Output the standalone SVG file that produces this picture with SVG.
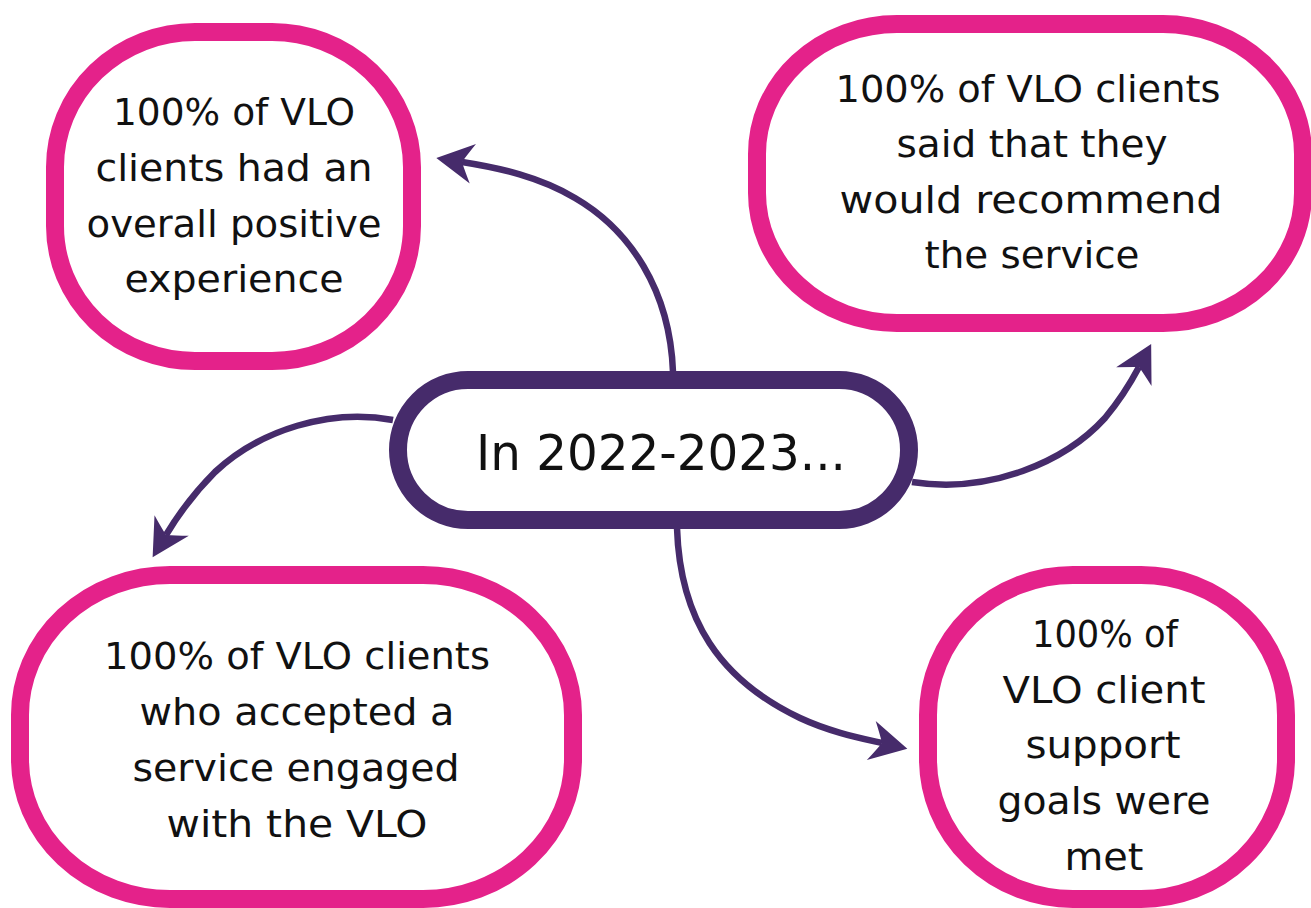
<svg xmlns="http://www.w3.org/2000/svg" width="1311" height="908" viewBox="0 0 1311 908">
<defs>
<style>
.box{fill:#fff;stroke:#E4228A;stroke-width:18}
.hub{fill:#fff;stroke:#462B6B;stroke-width:18}
.lbl{font-family:"DejaVu Sans","Liberation Sans",sans-serif;font-size:38px;fill:#111;text-anchor:middle}
.hubt{font-family:"DejaVu Sans","Liberation Sans",sans-serif;font-size:49px;fill:#111;text-anchor:middle}
.conn{fill:none;stroke:#462B6B;stroke-width:6.5}
</style>
<marker id="arr" markerUnits="userSpaceOnUse" viewBox="-40 -22 44 44" refX="-26" refY="0" markerWidth="44" markerHeight="44" orient="auto">
<path d="M0,0 L-37,-20 Q-30,-8 -26,0 Q-30,8 -37,20 Z" fill="#462B6B"/>
</marker>
</defs>
<rect width="1311" height="908" fill="#fff"/>
<g id="connectors">
<path class="conn" marker-end="url(#arr)" d="M673,372 C670,290 630,230 575,198 C540,177 500,168 462,162"/>
<path class="conn" marker-end="url(#arr)" d="M912,482 C990,494 1065,462 1105,418 C1120,400 1130,384 1139,367"/>
<path class="conn" marker-end="url(#arr)" d="M393,420 C330,408 260,430 215,472 C195,492 178,515 166,535"/>
<path class="conn" marker-end="url(#arr)" d="M677,528 C680,620 720,680 800,718 C830,732 860,738 882,743"/>
</g>
<g id="node-top-left">
<rect class="box" x="55" y="32" width="357" height="329" rx="140" ry="135"/>
<text class="lbl" x="234" y="125" textLength="242" lengthAdjust="spacingAndGlyphs">100% of VLO</text>
<text class="lbl" x="234" y="181" textLength="277" lengthAdjust="spacingAndGlyphs">clients had an</text>
<text class="lbl" x="234" y="237" textLength="295" lengthAdjust="spacingAndGlyphs">overall positive</text>
<text class="lbl" x="234" y="292" textLength="219" lengthAdjust="spacingAndGlyphs">experience</text>
</g>
<g id="node-top-right">
<rect class="box" x="757" y="24" width="546" height="299" rx="140" ry="130"/>
<text class="lbl" x="1028" y="102" textLength="385" lengthAdjust="spacingAndGlyphs">100% of VLO clients</text>
<text class="lbl" x="1032" y="157" textLength="271" lengthAdjust="spacingAndGlyphs">said that they</text>
<text class="lbl" x="1031" y="213" textLength="383" lengthAdjust="spacingAndGlyphs">would recommend</text>
<text class="lbl" x="1032" y="268" textLength="215" lengthAdjust="spacingAndGlyphs">the service</text>
</g>
<g id="node-center">
<rect class="hub" x="398" y="380" width="511" height="140" rx="70" ry="70"/>
<text class="hubt" x="661" y="470" textLength="370" lengthAdjust="spacingAndGlyphs">In 2022-2023...</text>
</g>
<g id="node-bottom-left">
<rect class="box" x="20" y="575" width="553" height="324" rx="150" ry="140"/>
<text class="lbl" x="297" y="669" textLength="386" lengthAdjust="spacingAndGlyphs">100% of VLO clients</text>
<text class="lbl" x="297" y="725" textLength="315" lengthAdjust="spacingAndGlyphs">who accepted a</text>
<text class="lbl" x="296" y="781" textLength="327" lengthAdjust="spacingAndGlyphs">service engaged</text>
<text class="lbl" x="297" y="837" textLength="261" lengthAdjust="spacingAndGlyphs">with the VLO</text>
</g>
<g id="node-bottom-right">
<rect class="box" x="928" y="575" width="358" height="324" rx="145" ry="140"/>
<text class="lbl" x="1105" y="647" textLength="146" lengthAdjust="spacingAndGlyphs">100% of</text>
<text class="lbl" x="1104" y="703" textLength="203" lengthAdjust="spacingAndGlyphs">VLO client</text>
<text class="lbl" x="1103" y="758" textLength="155" lengthAdjust="spacingAndGlyphs">support</text>
<text class="lbl" x="1104" y="814" textLength="213" lengthAdjust="spacingAndGlyphs">goals were</text>
<text class="lbl" x="1104" y="870" textLength="79" lengthAdjust="spacingAndGlyphs">met</text>
</g>
</svg>
